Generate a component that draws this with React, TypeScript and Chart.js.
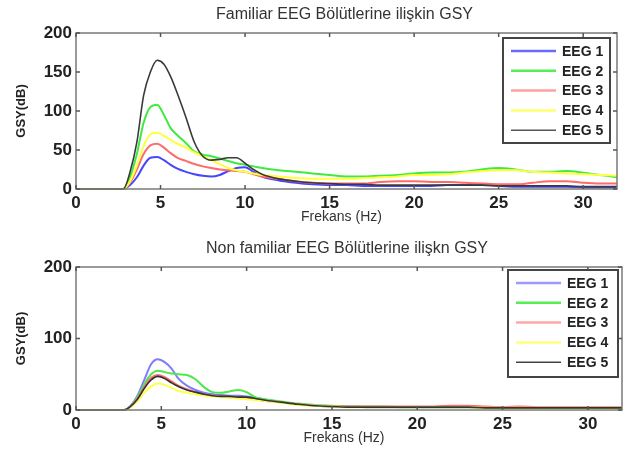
import React, { useEffect, useRef } from "react";
import { Chart, registerables } from "chart.js";

Chart.register(...registerables);

// ---------- DATA ----------
const FREQ = [0, 1, 2, 2.8, 3.2, 3.6, 4, 4.4, 4.8, 5.2, 5.6, 6, 6.5, 7, 7.5, 8, 8.5, 9, 9.5, 10, 10.5, 11, 12, 13, 14, 15, 16, 17, 18, 19, 20, 21, 22, 23, 24, 25, 26, 27, 28, 29, 30, 31, 32];

const SERIES_NAMES = ["EEG 1", "EEG 2", "EEG 3", "EEG 4", "EEG 5"];

// Familiar (top)
const FAM_EEG1 = [0, 0, 0, 0, 5, 15, 30, 40, 41, 37, 31, 26, 22, 19, 17, 16, 18, 23, 27, 28, 22, 16, 11, 8, 6, 5, 5, 4, 4, 4, 4, 4, 5, 5, 5, 4, 3, 3, 3, 3, 2, 2, 2];
const FAM_EEG2 = [0, 0, 0, 0, 16, 45, 85, 105, 108, 95, 78, 69, 59, 48, 44, 42, 39, 36, 33, 31, 29, 27, 24, 22, 20, 18, 16, 16, 17, 18, 20, 21, 21, 22, 25, 27, 25, 22, 22, 23, 21, 18, 15];
const FAM_EEG3 = [0, 0, 0, 0, 8, 25, 45, 56, 58, 53, 46, 40, 36, 32, 29, 27, 25, 24, 23, 22, 19, 16, 13, 10, 8, 7, 7, 7, 9, 10, 10, 9, 9, 8, 7, 6, 6, 8, 10, 10, 8, 7, 7];
const FAM_EEG4 = [0, 0, 0, 0, 10, 30, 55, 70, 72, 68, 63, 58, 53, 47, 42, 37, 32, 27, 24, 22, 20, 18, 16, 14, 13, 13, 13, 14, 15, 16, 18, 18, 19, 21, 23, 24, 24, 22, 21, 20, 19, 18, 17];
const FAM_EEG5 = [0, 0, 0, 0, 22, 60, 120, 150, 165, 160, 144, 122, 92, 60, 42, 37, 38, 40, 40, 33, 25, 19, 13, 10, 8, 7, 6, 6, 5, 5, 5, 5, 5, 5, 5, 4, 4, 4, 4, 4, 3, 3, 3];

// Non familiar (bottom)
const NON_EEG1 = [0, 0, 0, 0, 6, 20, 42, 64, 71, 67, 58, 44, 34, 28, 24, 22, 21, 20, 20, 19, 17, 15, 11, 8, 6, 5, 5, 4, 4, 4, 4, 4, 4, 4, 3, 3, 3, 3, 3, 3, 3, 3, 3];
const NON_EEG2 = [0, 0, 0, 0, 5, 18, 36, 50, 55, 53, 51, 50, 49, 43, 32, 25, 24, 26, 28, 25, 18, 15, 12, 9, 7, 6, 5, 5, 5, 4, 4, 4, 4, 4, 4, 4, 3, 3, 3, 3, 3, 3, 3];
const NON_EEG3 = [0, 0, 0, 0, 5, 16, 32, 45, 49, 46, 40, 34, 29, 25, 22, 20, 19, 18, 17, 16, 15, 13, 11, 8, 6, 5, 5, 5, 5, 5, 5, 5, 6, 6, 5, 4, 5, 4, 4, 4, 4, 4, 4];
const NON_EEG4 = [0, 0, 0, 0, 4, 12, 24, 33, 37, 35, 31, 27, 24, 22, 20, 19, 18, 17, 16, 15, 14, 13, 10, 7, 6, 5, 4, 4, 4, 4, 4, 4, 4, 4, 3, 3, 3, 3, 3, 3, 3, 3, 3];
const NON_EEG5 = [0, 0, 0, 0, 5, 15, 30, 42, 47, 44, 38, 33, 28, 25, 22, 20, 19, 19, 18, 18, 16, 14, 11, 8, 6, 5, 4, 4, 4, 4, 4, 4, 4, 4, 3, 3, 3, 3, 3, 3, 3, 3, 3];

const X_TICKS = [0, 5, 10, 15, 20, 25, 30];
const TOP_Y_TICKS = [0, 50, 100, 150, 200];
const BOTTOM_Y_TICKS = [0, 100, 200];

const TOP_TITLE = "Familiar EEG Bölütlerine ilişkin GSY";
const BOTTOM_TITLE = "Non familiar EEG Bölütlerine ilişkn GSY";
const X_LABEL = "Frekans (Hz)";
const Y_LABEL = "GSY(dB)";

const TOP_COLORS = ["#4545ff", "#3fea3f", "#ff6a6a", "#ffff40", "#3a3a3a"];
const TOP_LEGEND_COLORS = ["#6a6aff", "#55ee55", "#ffa0a0", "#ffff70", "#555555"];
const BOTTOM_COLORS = ["#7d7dff", "#4ee84e", "#ff7070", "#ffff50", "#333333"];
const BOTTOM_LEGEND_COLORS = ["#9a9aff", "#55ee55", "#ffa8a8", "#ffff80", "#444444"];

const FONT = "'Liberation Sans', Arial, sans-serif";

type PanelCfg = {
  series: number[][];
  colors: string[];
  legendColors: string[];
  yTicks: number[];
  title: string;
  top: number;
  height: number;
  areaTop: number;
  areaBottom: number;
  areaRight: number;
  legendInsetRight: number;
  legendInsetTop: number;
  legendW: number;
  legendH: number;
};

function makeFramePlugin(cfg: PanelCfg) {
  return {
    id: "frame",
    afterDraw(chart: any) {
      const ctx = chart.ctx as CanvasRenderingContext2D;
      const a = chart.chartArea;
      const xs = chart.scales.x;
      const ys = chart.scales.y;
      ctx.save();
      // box
      ctx.strokeStyle = "#7a7a7a";
      ctx.lineWidth = 1.5;
      ctx.strokeRect(a.left, a.top, a.right - a.left, a.bottom - a.top);
      // inward ticks
      ctx.lineWidth = 1.5;
      ctx.strokeStyle = "#555";
      const tl = 4;
      X_TICKS.forEach((v) => {
        const px = xs.getPixelForValue(v);
        ctx.beginPath();
        ctx.moveTo(px, a.bottom);
        ctx.lineTo(px, a.bottom - tl);
        ctx.moveTo(px, a.top);
        ctx.lineTo(px, a.top + tl);
        ctx.stroke();
      });
      cfg.yTicks.forEach((v) => {
        const py = ys.getPixelForValue(v);
        ctx.beginPath();
        ctx.moveTo(a.left, py);
        ctx.lineTo(a.left + tl, py);
        ctx.moveTo(a.right, py);
        ctx.lineTo(a.right - tl, py);
        ctx.stroke();
      });
      // title
      const cx = (a.left + a.right) / 2 - 2;
      ctx.fillStyle = "#333";
      ctx.textAlign = "center";
      ctx.textBaseline = "middle";
      ctx.font = `16px ${FONT}`;
      ctx.fillText(cfg.title, cx, a.top - 18);
      // x label
      ctx.font = `14px ${FONT}`;
      ctx.fillText(X_LABEL, cx - 3, a.bottom + 28);
      // y label
      ctx.save();
      ctx.translate(21, (a.top + a.bottom) / 2 + 0);
      ctx.rotate(-Math.PI / 2);
      ctx.font = `bold 13px ${FONT}`;
      ctx.fillStyle = "#222";
      ctx.fillText(Y_LABEL, 0, 0);
      ctx.restore();
      // legend
      const bx = a.right - cfg.legendInsetRight - cfg.legendW;
      const by = a.top + cfg.legendInsetTop;
      ctx.fillStyle = "#ffffff";
      ctx.fillRect(bx, by, cfg.legendW, cfg.legendH);
      ctx.strokeStyle = "#444";
      ctx.lineWidth = 2;
      ctx.strokeRect(bx, by, cfg.legendW, cfg.legendH);
      ctx.textAlign = "left";
      ctx.font = `bold 14px ${FONT}`;
      SERIES_NAMES.forEach((name, i) => {
        const ly = by + 13 + i * 19.8;
        ctx.strokeStyle = cfg.legendColors[i];
        ctx.lineWidth = i === 4 ? 1.5 : 2.5;
        ctx.beginPath();
        ctx.moveTo(bx + 8, ly);
        ctx.lineTo(bx + 53, ly);
        ctx.stroke();
        ctx.fillStyle = "#222";
        ctx.fillText(name, bx + 59, ly + 1);
      });
      ctx.restore();
    },
  };
}

function Panel({ cfg }: { cfg: PanelCfg }) {
  const ref = useRef<HTMLCanvasElement | null>(null);
  useEffect(() => {
    if (!ref.current) return;
    const datasets = cfg.series.map((vals, i) => ({
      label: SERIES_NAMES[i],
      data: FREQ.map((f, j) => ({ x: f, y: vals[j] })),
      borderColor: cfg.colors[i],
      borderWidth: i === 4 ? 1.6 : 2,
      pointRadius: 0,
      cubicInterpolationMode: "monotone" as const,
      fill: false,
      order: 5 - i,
      clip: 2,
    }));
    const chart = new Chart(ref.current, {
      type: "line",
      data: { datasets },
      options: {
        animation: false,
        responsive: false,
        maintainAspectRatio: false,
        layout: { padding: { top: cfg.areaTop, right: 629 - cfg.areaRight, left: 0, bottom: 0 } },
        plugins: { legend: { display: false }, tooltip: { enabled: false }, title: { display: false } },
        scales: {
          x: {
            type: "linear",
            min: 0,
            max: 32,
            grid: { display: false, drawTicks: false },
            border: { display: false },
            afterBuildTicks: (s: any) => {
              s.ticks = X_TICKS.map((v) => ({ value: v }));
            },
            afterFit: (s: any) => {
              s.height = cfg.height - cfg.areaBottom;
            },
            ticks: {
              padding: 4,
              color: "#222",
              font: { family: FONT, size: 17, weight: "bold" },
              maxRotation: 0,
            },
          },
          y: {
            type: "linear",
            min: 0,
            max: 200,
            grid: { display: false, drawTicks: false },
            border: { display: false },
            afterBuildTicks: (s: any) => {
              s.ticks = cfg.yTicks.map((v) => ({ value: v }));
            },
            afterFit: (s: any) => {
              s.width = 76;
            },
            ticks: {
              padding: 4,
              color: "#222",
              font: { family: FONT, size: 17, weight: "bold" },
            },
          },
        },
      },
      plugins: [makeFramePlugin(cfg)],
    } as any);
    return () => chart.destroy();
  }, [cfg]);
  return (
    <canvas
      ref={ref}
      width={629}
      height={cfg.height}
      style={{ position: "absolute", left: 0, top: cfg.top, width: 629, height: cfg.height }}
    />
  );
}

const TOP_CFG: PanelCfg = {
  series: [FAM_EEG1, FAM_EEG2, FAM_EEG3, FAM_EEG4, FAM_EEG5],
  colors: TOP_COLORS,
  legendColors: TOP_LEGEND_COLORS,
  yTicks: TOP_Y_TICKS,
  title: TOP_TITLE,
  top: 0,
  height: 229,
  areaTop: 33,
  areaBottom: 189,
  areaRight: 617,
  legendInsetRight: 7,
  legendInsetTop: 5,
  legendW: 107,
  legendH: 105,
};

const BOTTOM_CFG: PanelCfg = {
  series: [NON_EEG1, NON_EEG2, NON_EEG3, NON_EEG4, NON_EEG5],
  colors: BOTTOM_COLORS,
  legendColors: BOTTOM_LEGEND_COLORS,
  yTicks: BOTTOM_Y_TICKS,
  title: BOTTOM_TITLE,
  top: 229,
  height: 228,
  areaTop: 38,
  areaBottom: 181,
  areaRight: 622,
  legendInsetRight: 4,
  legendInsetTop: 3,
  legendW: 110,
  legendH: 107,
};

export default function App() {
  return (
    <div style={{ position: "fixed", left: 0, top: 0, width: 629, height: 457, background: "#fff" }}>
      <Panel cfg={TOP_CFG} />
      <Panel cfg={BOTTOM_CFG} />
    </div>
  );
}
